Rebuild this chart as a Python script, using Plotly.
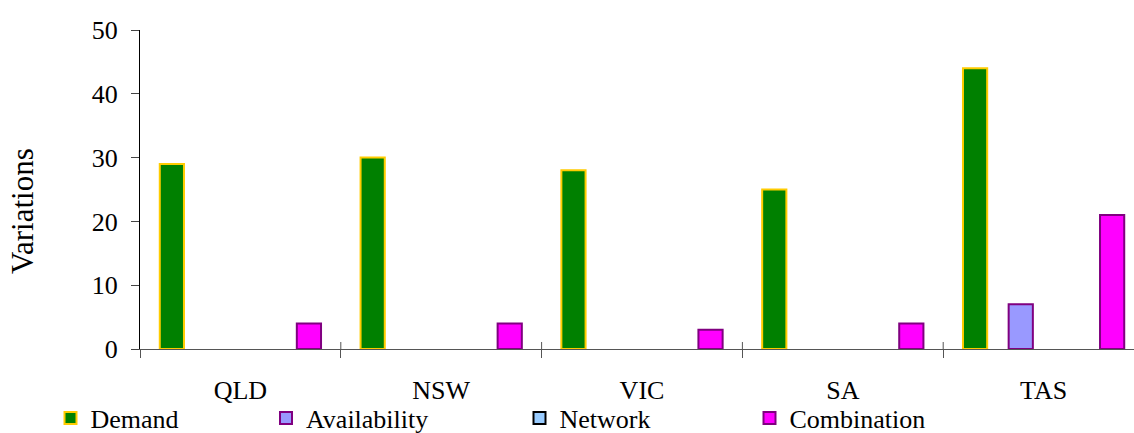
import plotly.graph_objects as go

# Regions and variation counts per cause
regions = ["QLD", "NSW", "VIC", "SA", "TAS"]
demand = [29, 30, 28, 25, 44]
availability = [0, 0, 0, 0, 7]
network = [0, 0, 0, 0, 0]
combination = [4, 4, 3, 4, 21]

series = [
    ("Demand", demand, "#008000", "#FFCC00", "legend"),
    ("Availability", availability, "#9999FF", "#800080", "legend2"),
    ("Network", network, "#99CCFF", "#000000", "legend3"),
    ("Combination", combination, "#FF00FF", "#800080", "legend4"),
]

W, H = 1134, 433
L, R, T, B = 140, 0, 30, 84
plot_w = W - L - R
plot_h = H - T - B

SERIF = "Liberation Serif"

fig = go.Figure()
for name, vals, fill, edge, leg in series:
    # empty categories carry no bar at all
    fig.add_trace(go.Bar(
        x=regions, y=[v if v else None for v in vals],
        name=name, legend=leg,
        marker=dict(color=fill, line=dict(color=edge, width=2)),
    ))

# x range: categories are ~201 px wide, the last one runs past the right edge
x_hi = -0.5 + plot_w / 200.8


def px_to_paper_x(px):
    return (px - L) / plot_w


def px_to_paper_y(py):
    return (H - B - py) / plot_h


# one legend per series so each entry sits at its own spot along the bottom
legend_centers = [70.5, 286, 539.5, 769.5]
legend_keys = ["legend", "legend2", "legend3", "legend4"]
for key, cx in zip(legend_keys, legend_centers):
    fig.update_layout({key: dict(
        orientation="h", xanchor="left", yanchor="middle",
        xref="paper", yref="container",
        x=px_to_paper_x(cx - 20), y=(H - 418) / H,
        bgcolor="rgba(0,0,0,0)",
        font=dict(family=SERIF, size=26, color="#000"),
    )})

# boundary ticks cross the baseline: the upper half of each tick
tick_up = 7 / plot_h
shapes = [
    dict(type="line", xref="x", yref="paper",
         x0=i - 0.5, x1=i - 0.5, y0=0, y1=tick_up,
         line=dict(color="#555", width=1))
    for i in range(1, len(regions))
]

fig.update_layout(
    width=W, height=H, autosize=False,
    margin=dict(l=L, r=R, t=T, b=B, pad=0, autoexpand=False),
    paper_bgcolor="white", plot_bgcolor="white",
    barmode="group", bargap=0.09, bargroupgap=0.47,
    showlegend=True,
    font=dict(family=SERIF, color="#000"),
    xaxis=dict(
        type="category", range=[-0.5, x_hi],
        showline=True, linecolor="#555", linewidth=1,
        ticks="outside", tickson="boundaries", ticklen=8,
        tickcolor="#555", tickwidth=1,
        tickfont=dict(family=SERIF, size=26, color="#000"),
        ticklabelstandoff=18,
        showgrid=False, zeroline=False, fixedrange=True,
    ),
    yaxis=dict(
        range=[0, 50], tickmode="linear", tick0=0, dtick=10,
        showline=True, linecolor="#000", linewidth=1,
        ticks="outside", ticklen=8, tickcolor="#444", tickwidth=1,
        tickfont=dict(family=SERIF, size=26, color="#000"),
        ticklabelstandoff=8,
        showgrid=False, zeroline=False, fixedrange=True,
    ),
    shapes=shapes,
    annotations=[dict(
        text="Variations", textangle=-90, showarrow=False,
        xref="paper", yref="paper",
        x=px_to_paper_x(22), y=px_to_paper_y(211),
        xanchor="center", yanchor="middle",
        font=dict(family=SERIF, size=31, color="#000"),
    )],
)

fig.write_html("out.html")
